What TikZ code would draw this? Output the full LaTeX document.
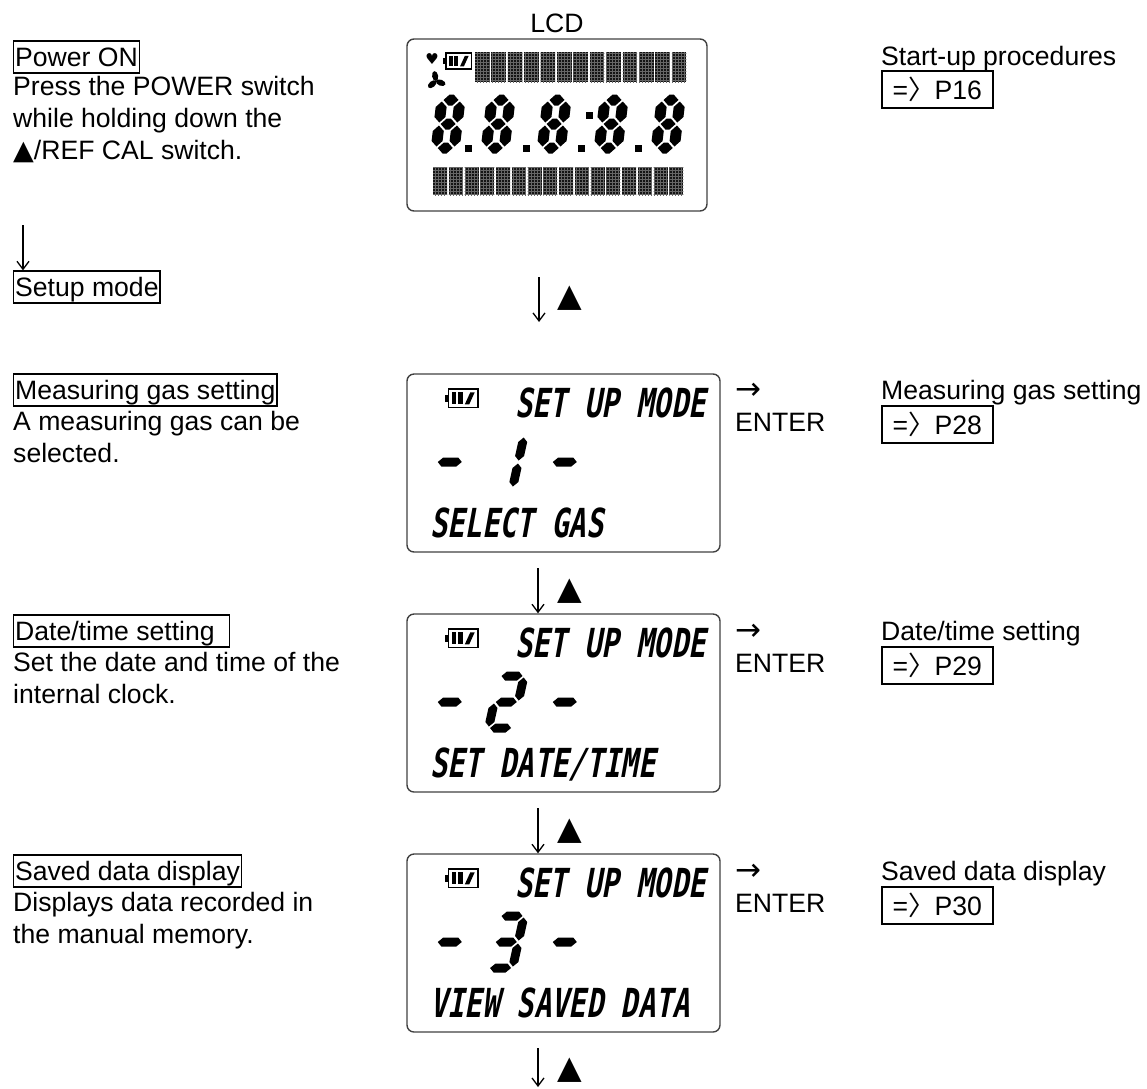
\documentclass[tikz,border=0pt]{standalone}
\usepackage{fontspec}
\setmainfont{Liberation Sans}
\newfontfamily\lcdfont{DejaVu Sans Mono}[FakeSlant=0.18,FakeStretch=0.72]
\newfontfamily\symfont{DejaVu Sans}
\newfontfamily\cjk{Noto Sans CJK JP}
\usepackage{tikz}
\usetikzlibrary{arrows.meta,patterns}

\newcommand{\segw}{24}
\newcommand{\segh}{52}
\newcommand{\segt}{4.5}
\newcommand{\pref}[1]{={\cjk 〉}#1}
\newcommand{\uptri}{{\symfont\fontsize{32}{32}\selectfont ▲}}
\newcommand{\rarr}{{\symfont\fontsize{31}{31}\selectfont →}}
\newcommand{\lcddigit}[4][0.22]{%
  \begin{scope}[shift={({#2*1pt},{-(#3)*1pt})},xslant=#1,x=1pt,y=-1pt]
    \foreach \sg in {#4} \fill[lcdseg] [seg \sg];
  \end{scope}}
\newcommand{\battery}[3]{%
  \begin{scope}[shift={({#1*1pt},{-(#2)*1pt})},x=#3pt,y=-#3pt]
    \draw[line width=1.5pt] (3,0) rectangle (30,17);
    \fill (0,5) rectangle (3,12);
    \fill (6,3) rectangle (10,14);
    \fill (12,3) rectangle (16,14);
    \fill (18,14) -- (23,3) -- (27,3) -- (22,14) -- cycle;
  \end{scope}}

\tikzset{
  lcdseg/.style={fill=black},
  hseg/.style={insert path={(1.5,#1) -- (1.5+\segt,#1-\segt) -- (\segw-1.5-\segt,#1-\segt) -- (\segw-1.5,#1) -- (\segw-1.5-\segt,#1+\segt) -- (1.5+\segt,#1+\segt) -- cycle}},
  vseg/.style n args={3}{insert path={(#1,#2+1.5) -- (#1+\segt,#2+1.5+\segt) -- (#1+\segt,#3-1.5-\segt) -- (#1,#3-1.5) -- (#1-\segt,#3-1.5-\segt) -- (#1-\segt,#2+1.5+\segt) -- cycle}},
  seg a/.style={hseg=0},
  seg g/.style={hseg=\segh/2},
  seg d/.style={hseg=\segh},
  seg f/.style={vseg={0}{0}{\segh/2}},
  seg b/.style={vseg={\segw}{0}{\segh/2}},
  seg e/.style={vseg={0}{\segh/2}{\segh}},
  seg c/.style={vseg={\segw}{\segh/2}{\segh}},
}

\begin{document}
\begin{tikzpicture}[font=\fontsize{26.6}{32}\selectfont, inner sep=0pt,
  headbox/.style={draw, line width=1.3pt, inner xsep=1.5pt, inner ysep=1pt, text height=24pt, text depth=6pt, anchor=base west},
  refbox/.style={draw, line width=1.6pt, minimum width=111pt, minimum height=37pt, anchor=north west},
  desc/.style={align=left, anchor=base west},
  lcdbox/.style={draw=black!75, line width=1.4pt, rounded corners=7pt},
  lcdtext/.style={font=\lcdfont\bfseries\fontsize{40}{40}\selectfont, anchor=base west},
  dnarrow/.style={line width=1.3pt, -{Straight Barb[length=8pt,width=12pt,line width=1.3pt]}},
  dotblock/.style={fill=black!92, postaction={pattern=grid, pattern color=black!60}}]
  \useasboundingbox (0pt,0pt) rectangle (1147pt,-1088pt);

  \draw (13pt,-66pt) node[headbox] (pwron) {Power ON};
  \draw (13pt,-159pt) node[desc] (pwrtext) {Press the POWER switch\\while holding down the\\{\symfont\fontsize{27}{27}\selectfont ▲}/REF CAL switch.};
  \coordinate (pwrarr) at (23pt,-225pt);
  \draw (13pt,-296pt) node[headbox] (setup) {Setup mode};
  \draw[dnarrow] (pwrarr) -- (pwrarr |- setup.north);
  \draw (13pt,-399pt) node[headbox] (gashead) {Measuring gas setting};
  \draw (13pt,-462pt) node[desc] (gastext) {A measuring gas can be\\selected.};
  \draw (13pt,-640pt) node[headbox] (datehead) {Date/time setting\hspace*{13pt}};
  \draw (13pt,-703pt) node[desc] (datetext) {Set the date and time of the\\internal clock.};
  \draw (13pt,-880pt) node[headbox] (savehead) {Saved data display};
  \draw (13pt,-943pt) node[desc] (savetext) {Displays data recorded in\\the manual memory.};

  \draw (557pt,-32pt) node[anchor=base] (lcdlabel) {LCD};
  \draw (557pt,-125pt) node[lcdbox, minimum width=300pt, minimum height=172pt] (lcd) {};
  \draw (563.5pt,-463pt) node[lcdbox, minimum width=313pt, minimum height=178pt] (d1) {};
  \draw (563.5pt,-703pt) node[lcdbox, minimum width=313pt, minimum height=178pt] (d2) {};
  \draw (563.5pt,-943pt) node[lcdbox, minimum width=313pt, minimum height=178pt] (d3) {};

  \draw (432pt,-59pt) node[font=\symfont\fontsize{15}{15}\selectfont] (heart) {♥};
  \battery{443}{53}{0.95}
  \begin{scope}[shift={(436pt,-81pt)}]
    \fill[rotate=100] (5pt,0pt) ellipse (5pt and 3pt);
    \fill[rotate=220] (5pt,0pt) ellipse (5pt and 3pt);
    \fill[rotate=340] (5pt,0pt) ellipse (5pt and 3pt);
  \end{scope}
  \foreach \i in {0,...,12} \fill[dotblock] ({(475+16.4*\i)*1pt},-52pt) rectangle ++(14.5pt,-30pt);
  \foreach \i in {0,...,15} \fill[dotblock] ({(433+15.75*\i)*1pt},-167pt) rectangle ++(14pt,-28pt);
  \renewcommand{\segw}{18}
  \renewcommand{\segh}{48}
  \renewcommand{\segt}{5.5}
  \lcddigit[0.12]{442}{100}{a,b,c,d,e,f,g}
  \lcddigit[0.12]{492}{100}{a,b,c,d,e,f,g}
  \lcddigit[0.12]{548}{100}{a,b,c,d,e,f,g}
  \lcddigit[0.12]{605}{100}{a,b,c,d,e,f,g}
  \lcddigit[0.12]{662}{100}{a,b,c,d,e,f,g}
  \fill (465pt,-145pt) rectangle (472pt,-152pt);
  \fill (523pt,-145pt) rectangle (530pt,-152pt);
  \fill (578pt,-145pt) rectangle (585pt,-152pt);
  \fill (586pt,-112pt) rectangle (593pt,-119pt);
  \fill (635pt,-145pt) rectangle (642pt,-152pt);

  \renewcommand{\segw}{24}
  \renewcommand{\segh}{52}
  \renewcommand{\segt}{4.5}
  \battery{445}{389}{1.1}
  \draw (515pt,-417pt) node[lcdtext] (mode1) {SET UP MODE};
  {\renewcommand{\segw}{27}\lcddigit{442}{436}{g}\lcddigit{557}{436}{g}}
  \lcddigit{500}{436}{b,c}
  \draw (430pt,-537pt) node[lcdtext] (gaslcd) {SELECT GAS};
  \battery{445}{629}{1.1}
  \draw (515pt,-657pt) node[lcdtext] (mode2) {SET UP MODE};
  {\renewcommand{\segw}{27}\lcddigit{442}{676}{g}\lcddigit{557}{676}{g}}
  \lcddigit{500}{676}{a,b,g,e,d}
  \draw (430pt,-777pt) node[lcdtext] (datelcd) {SET DATE/TIME};
  \battery{445}{869}{1.1}
  \draw (515pt,-897pt) node[lcdtext] (mode3) {SET UP MODE};
  {\renewcommand{\segw}{27}\lcddigit{442}{916}{g}\lcddigit{557}{916}{g}}
  \lcddigit{500}{916}{a,b,g,c,d}
  \draw (430pt,-1017pt) node[lcdtext] (savelcd) {VIEW SAVED DATA};

  \coordinate (arr0) at (539pt,-277pt);
  \coordinate (arr0e) at (539pt,-322pt);
  \draw[dnarrow] (arr0) -- (arr0e);
  \draw (570pt,-298pt) node (up0) {\uptri};
  \coordinate (arr1) at (538pt,-568pt);
  \draw[dnarrow] (arr1) -- (arr1 |- d2.north);
  \draw (570pt,-591pt) node (up1) {\uptri};
  \coordinate (arr2) at (538pt,-808pt);
  \draw[dnarrow] (arr2) -- (arr2 |- d3.north);
  \draw (570pt,-831pt) node (up2) {\uptri};
  \coordinate (arr3) at (538pt,-1048pt);
  \coordinate (arr3e) at (538pt,-1087pt);
  \draw[dnarrow] (arr3) -- (arr3e);
  \draw (570pt,-1070pt) node (up3) {\uptri};

  \draw (735pt,-431pt) node[desc] (enter1) {\rarr\\ENTER};
  \draw (735pt,-672pt) node[desc] (enter2) {\rarr\\ENTER};
  \draw (735pt,-912pt) node[desc] (enter3) {\rarr\\ENTER};

  \draw (881pt,-65pt) node[anchor=base west] (starthead) {Start-up procedures};
  \draw (881pt,-70pt) node[refbox] (startref) {\pref{P16}};
  \draw (881pt,-399pt) node[anchor=base west] (gasright) {Measuring gas setting};
  \draw (881pt,-405pt) node[refbox] (gasref) {\pref{P28}};
  \draw (881pt,-640pt) node[anchor=base west] (dateright) {Date/time setting};
  \draw (881pt,-646pt) node[refbox] (dateref) {\pref{P29}};
  \draw (881pt,-880pt) node[anchor=base west] (saveright) {Saved data display};
  \draw (881pt,-886pt) node[refbox] (saveref) {\pref{P30}};
\end{tikzpicture}
\end{document}
